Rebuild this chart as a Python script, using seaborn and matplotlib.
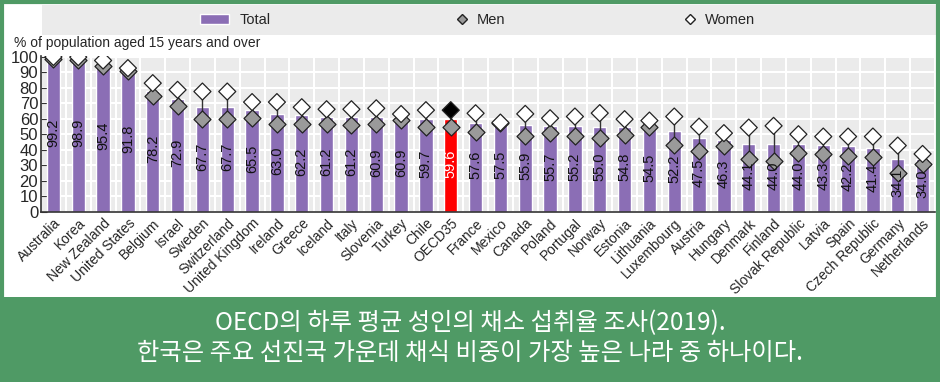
import matplotlib
matplotlib.use("Agg")
import matplotlib.pyplot as plt
import seaborn as sns
import numpy as np
from matplotlib import font_manager
from matplotlib.patches import Rectangle
from matplotlib.lines import Line2D

countries = ["Australia", "Korea", "New Zealand", "United States", "Belgium", "Israel",
             "Sweden", "Switzerland", "United Kingdom", "Ireland", "Greece", "Iceland",
             "Italy", "Slovenia", "Turkey", "Chile", "OECD35", "France", "Mexico", "Canada",
             "Poland", "Portugal", "Norway", "Estonia", "Lithuania", "Luxembourg", "Austria",
             "Hungary", "Denmark", "Finland", "Slovak Republic", "Latvia", "Spain",
             "Czech Republic", "Germany", "Netherlands"]
total = [99.2, 98.9, 95.4, 91.8, 78.2, 72.9, 67.7, 67.7, 65.5, 63.0, 62.2, 61.2,
         61.2, 60.9, 60.9, 59.7, 59.6, 57.6, 57.5, 55.9, 55.7, 55.2, 55.0, 54.8,
         54.5, 52.2, 47.5, 46.3, 44.1, 44.0, 44.0, 43.3, 42.2, 41.4, 34.1, 34.0]
men = [98.4, 98.0, 94.0, 91.0, 75.0, 68.4, 59.8, 59.8, 60.4, 56.6, 56.8, 56.8,
       56.2, 56.8, 59.3, 54.5, 54.5, 51.8, 57.4, 49.0, 51.2, 49.0, 47.5, 49.7,
       54.6, 43.2, 39.6, 42.8, 34.2, 32.9, 37.8, 37.4, 36.1, 35.7, 25.0, 30.7]
women = [99.9, 99.8, 97.6, 92.7, 83.0, 78.7, 77.6, 77.6, 70.8, 70.8, 67.5, 66.2,
         66.2, 66.8, 63.1, 65.6, 65.6, 63.6, 57.6, 63.2, 60.4, 61.5, 63.7, 59.8,
         58.9, 61.5, 55.0, 50.8, 54.4, 55.5, 50.1, 48.6, 48.6, 48.6, 42.8, 37.4]
caption = ["OECD의 하루 평균 성인의 채소 섭취율 조사(2019).",
           "한국은 주요 선진국 가운데 채식 비중이 가장 높은 나라 중 하나이다."]

purple = "#8B6EB5"
green = "#4F9A65"
installed = {f.name for f in font_manager.fontManager.ttflist}
narrow = "Liberation Sans Narrow" if "Liberation Sans Narrow" in installed else "Liberation Sans"

sns.set_style("whitegrid", {"axes.facecolor": "#EBEBEB", "grid.color": "white"})
plt.rcParams["font.family"] = ["Liberation Sans", "DejaVu Sans"]

fig = plt.figure(figsize=(9.4, 3.82), dpi=100)
ax = fig.add_axes([41 / 940, 170 / 382, 894 / 940, 156 / 382])

bar_colors = ["#FF0000" if c == "OECD35" else purple for c in countries]
sns.barplot(x=countries, y=total, hue=countries, palette=bar_colors, legend=False,
            width=0.54, saturation=1, ax=ax, zorder=2)

ax.vlines(range(len(countries)), men, women, color="#333333", lw=1, zorder=3)
sns.scatterplot(x=countries, y=men, marker="D", color="#9A9A9A", edgecolor="#222222",
                linewidth=0.9, s=75, ax=ax, zorder=4)
women_fill = ["#000000" if c == "OECD35" else "white" for c in countries]
sns.scatterplot(x=countries, y=women, hue=countries, palette=women_fill, legend=False,
                marker="D", edgecolor="#222222", linewidth=0.9, s=75, ax=ax, zorder=5)

for i, v in enumerate(total):
    col = "white" if countries[i] == "OECD35" else "#111111"
    ax.text(i, v * 0.5 + 1.5, f"{v:.1f}", rotation=90, ha="center", va="center",
            fontsize=10.5, color=col, family=narrow, zorder=6)

ax.set_ylim(0, 100.5)
ax.set_xlim(-0.5, len(countries) - 0.5)
ax.set_yticks(range(0, 101, 10))
ax.set_yticklabels([str(t) for t in range(0, 101, 10)], fontsize=12, family=narrow)
ax.set_xticks(range(len(countries)))
ax.set_xticklabels(countries, rotation=45, ha="right", rotation_mode="anchor",
                   fontsize=10, family=narrow)
ax.set_xticks(np.arange(0.5, len(countries), 1), minor=True)
ax.tick_params(axis="x", which="major", length=0, pad=3)
ax.tick_params(axis="x", which="minor", direction="in", length=4, color="#333333")
ax.tick_params(axis="y", direction="in", length=4, color="#333333", left=True, pad=2)
ax.grid(axis="x", which="major", visible=False)
ax.grid(axis="x", which="minor", color="white", lw=1.5)
ax.grid(axis="y", color="white", lw=1.5)
ax.set_axisbelow(True)
ax.set_xlabel("")
ax.set_ylabel("")
for s in ["top", "right"]:
    ax.spines[s].set_visible(False)
for s in ["left", "bottom"]:
    ax.spines[s].set_color("#333333")
    ax.spines[s].set_linewidth(1.2)

fig.text(14 / 940, 1 - 43 / 382, "% of population aged 15 years and over", fontsize=10,
         family=narrow, va="center", ha="left")

# legend strip
fig.patches.append(Rectangle((42 / 940, 1 - 35 / 382), 894 / 940, 30 / 382,
                             transform=fig.transFigure, facecolor="#EBEBEB",
                             edgecolor="none", zorder=0))
legend_items = [
    (Rectangle((0, 0), 1, 1, facecolor=purple), "Total", 200),
    (Line2D([], [], marker="D", ls="", markersize=5, markerfacecolor="#9A9A9A",
            markeredgecolor="#222222"), "Men", 458),
    (Line2D([], [], marker="D", ls="", markersize=5, markerfacecolor="white",
            markeredgecolor="#222222"), "Women", 686),
]
for handle, lab, px in legend_items:
    lg = fig.legend([handle], [lab], loc="center left",
                    bbox_to_anchor=(px / 940, 1 - 20 / 382), frameon=False,
                    prop={"family": narrow, "size": 10.5},
                    handlelength=2.0 if lab == "Total" else 0.6, handletextpad=0.7,
                    borderpad=0, borderaxespad=0)

# green frame and caption band
fig.patches.append(Rectangle((0, 0), 1, 85 / 382, transform=fig.transFigure,
                             facecolor=green, edgecolor="none", zorder=0))
fig.patches.append(Rectangle((2 / 940, 2 / 382), 936 / 940, 378 / 382,
                             transform=fig.transFigure, facecolor="none",
                             edgecolor=green, lw=3, zorder=10))
for k, line in enumerate(caption):
    fig.text(0.5, 1 - (323 + 30 * k) / 382, line, color="white", fontsize=17.5,
             ha="center", va="center", family=["Noto Sans CJK KR", "DejaVu Sans"])

fig.savefig("out.png", dpi=100)
